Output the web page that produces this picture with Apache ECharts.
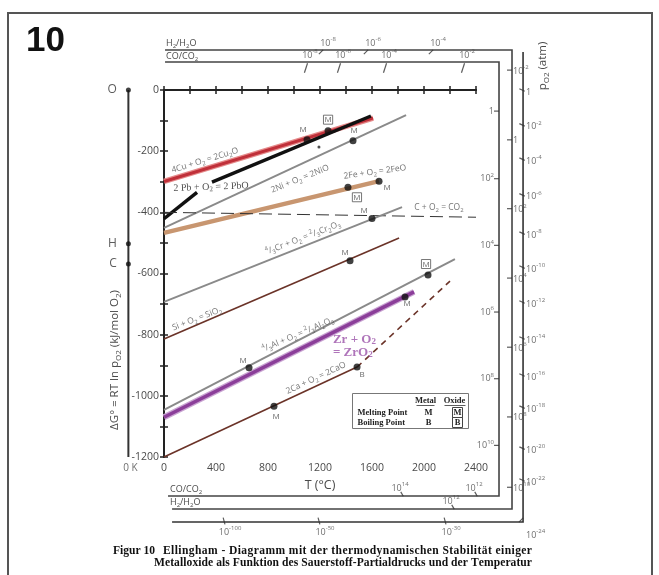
<!DOCTYPE html>
<html><head><meta charset="utf-8">
<script src="https://cdn.jsdelivr.net/npm/echarts@6/dist/echarts.min.js"></script>
<style>html,body{margin:0;padding:0;background:#fff}#c{width:659px;height:575px}</style>
</head><body><div id="c"></div>
<script>
// ---------------- DATA ----------------
const tempTicks = [0, 400, 800, 1200, 1600, 2000, 2400];
const gTicks = [-1200, -1000, -800, -600, -400, -200, 0];

// reaction lines [T (°C), ΔG (kJ/mol O2)]
const cuLine = [[0, -299], [1608, -92]];
const pbLineA = [[0, -421], [254, -335]];
const pbLineB = [[369, -301], [1592, -85]];
const niLine = [[0, -451], [1862, -82]];
const feLine = [[0, -467], [1654, -298]];
const carbonLine = [[0, -400], [2400, -416]];
const crLine = [[0, -693], [1831, -383]];
const siLine = [[0, -814], [1808, -484]];
const alLine = [[0, -1046], [2238, -553]];
const zrLine = [[0, -1070], [1923, -660]];
const caLine = [[0, -1200], [1485, -906]];
const caDashed = [[1485, -906], [2200, -625]];

// melting / boiling points
const meltPoints = [[1100, -163], [1262, -133], [1454, -166], [1415, -318], [1654, -298], [1600, -420],
                    [1431, -558], [654, -908], [2031, -605], [1854, -677], [846, -1034]];
const meltKinds = ['M', 'Mbox', 'M', 'Mbox', 'M', 'M', 'M', 'M', 'Mbox', 'M', 'M'];
const boilPoints = [[1485, -906]];
const strayPoint = [[1192, -186]];

// reaction labels [T, ΔG]
const reactionPos = [[315, -230], [362, -317], [1046, -291], [1623, -268], [2115, -384], [1069, -484],
                     [254, -748], [1030, -800], [1169, -942]];
const reactionText = ['4Cu + O{sub|2} = 2Cu{sub|2}O', '2 Pb + O{sub|2} = 2 PbO', '2Ni + O{sub|2} = 2NiO',
  '2Fe + O{sub|2} = 2FeO', 'C + O{sub|2} = CO{sub|2}', '{sup|4}/{sub|3}Cr + O{sub|2} = {sup|2}/{sub|3}Cr{sub|2}O{sub|3}',
  'Si + O{sub|2} = SiO{sub|2}', '{sup|4}/{sub|3}Al + O{sub|2} = {sup|2}/{sub|3}Al{sub|2}O{sub|3}', '2Ca + O{sub|2} = 2CaO'];
const zrPos = [[1438, -837]];

// 0 K scale (element points)
const zeroK = -274;
const elementNames = ['O', 'H', 'C'];
const elementG = [0, -503, -569];

// nomographic scales
const coTopG = 91.6, h2TopG = 130.8, coBotG = -1327.6, h2BotG = -1370, pBotG = -1412.6;
const coRightT = 2577, h2RightT = 2677, pRightT = 2762;
const coTopT = [1092, 1346, 1700, 2300];
const coTopLabels = ['10{sup|-8}', '10{sup|-6}', '10{sup|-4}', '10{sup|-2}'];
const h2TopT = [1200, 1546, 2046];
const h2TopLabels = ['10{sup|-8}', '10{sup|-6}', '10{sup|-4}'];
const coRightG = [-69, -290, -508, -726, -944, -1162];
const coRightLabels = ['1', '10{sup|2}', '10{sup|4}', '10{sup|6}', '10{sup|8}', '10{sup|10}'];
const h2RightG = [65, -163, -388, -615, -841, -1069, -1299];
const h2RightLabels = ['10{sup|-2}', '1', '10{sup|2}', '10{sup|4}', '10{sup|6}', '10{sup|8}', '10{sup|10}'];
const pRightG = [0, -114, -226, -343, -468, -579, -693, -811, -932, -1037, -1171, -1275];
const pRightLabels = ['1', '10{sup|-2}', '10{sup|-4}', '10{sup|-6}', '10{sup|-8}', '10{sup|-10}', '10{sup|-12}',
  '10{sup|-14}', '10{sup|-16}', '10{sup|-18}', '10{sup|-20}', '10{sup|-22}'];
const pCornerLabel = '10{sup|-24}';
const coBotT = [1831, 2400];
const coBotLabels = ['10{sup|14}', '10{sup|12}'];
const h2BotT = [2223];
const h2BotLabels = ['10{sup|12}'];
const pBotT = [462, 1192, 2162];
const pBotLabels = ['10{sup|-100}', '10{sup|-50}', '10{sup|-30}'];

// frames of the scales
const coFrame = [[8, coTopG], [coRightT, coTopG], [coRightT, coBotG], [31, coBotG]];
const h2Frame = [[8, h2TopG], [h2RightT, h2TopG], [h2RightT, h2BotG], [62, h2BotG]];
const pFrame = [[pRightT, 124], [pRightT, pBotG], [62, pBotG]];
const zeroKLine = [[zeroK, 0], [zeroK, -1200]];

// ---------------- CHART ----------------
const SANS = '"Open Sans", "DejaVu Sans", sans-serif';
const SERIF = '"Liberation Serif", "DejaVu Serif", serif';
const TXT = '#4a4a4a';
function richFor(fs, color, family) {
  return {
    sup: {fontSize: Math.round(fs * 0.72), verticalAlign: 'top', color: color, fontFamily: family || SANS},
    sub: {fontSize: Math.round(fs * 0.72), verticalAlign: 'bottom', color: color, fontFamily: family || SANS},
    box: {fontSize: fs, color: color, fontFamily: family || SANS, borderColor: '#555', borderWidth: 1, padding: [1, 1, 0, 1]}
  };
}
function line(data, color, width, extra) {
  return {type: 'line', data: data, symbol: 'none', clip: false, silent: true,
    lineStyle: Object.assign({color: color, width: width}, extra || {}), z: 3};
}
function polyline(data, color, width) {
  return {type: 'custom', data: data, clip: false, silent: true, z: 3,
    renderItem: (params, api) => params.dataIndex === 0 ? {type: 'polyline',
      shape: {points: data.map(d => api.coord(d))}, style: {stroke: color, lineWidth: width, fill: null}} : null};
}
function ticks(points, size, rot, offset) {
  return {type: 'scatter', data: points, symbol: 'rect', symbolSize: size, symbolRotate: rot || 0,
    symbolOffset: offset || [0, 0], itemStyle: {color: '#333'}, clip: false, silent: true, z: 4};
}
function labels(points, names, offset, align, fs) {
  fs = fs || 9;
  return {type: 'scatter', data: points.map((p, i) => ({value: p, name: names[i]})), symbolSize: 0,
    clip: false, silent: true, z: 5,
    label: {show: true, position: 'inside', offset: offset, align: align || 'center', verticalAlign: 'middle',
      formatter: p => p.name, fontSize: fs, lineHeight: Math.round(fs * 1.45), color: TXT, fontFamily: SANS,
      rich: richFor(fs, TXT)}};
}
const series = [];
// frames
series.push(polyline(coFrame, '#444', 1.6));
series.push(polyline(h2Frame, '#444', 1.6));
series.push(polyline(pFrame, '#333', 1.6));
series.push(polyline(zeroKLine, '#333', 2));
// scale ticks and labels
series.push(ticks(coTopT.map(t => [t, coTopG]), [1.2, 10], -18, [0, 6]));
series.push(labels(coTopT.map(t => [t, coTopG]), coTopLabels, [4, -7], 'center', 9));
series.push(ticks(h2TopT.map(t => [t, h2TopG]), [1.2, 6], -45, [1, 2]));
series.push(labels(h2TopT.map(t => [t, h2TopG]), h2TopLabels, [8, -7], 'center', 9));
series.push(ticks(coRightG.map(g => [coRightT, g]), [5, 1.2], 0, [-2.5, 0]));
series.push(labels(coRightG.map(g => [coRightT, g]), coRightLabels, [-5, 0], 'right', 9));
series.push(ticks(h2RightG.map(g => [h2RightT, g]), [5, 1.2], 0, [-2.5, 0]));
series.push(labels(h2RightG.map(g => [h2RightT, g]), h2RightLabels, [1, 1], 'left', 9));
series.push(ticks(pRightG.map(g => [pRightT, g]), [6, 1.2], -25, [-1, 0]));
series.push(labels(pRightG.map(g => [pRightT, g]), pRightLabels, [3, 2], 'left', 9));
series.push(labels([[pRightT, pBotG]], [pCornerLabel], [3, 13], 'left', 9));
series.push(ticks([[pRightT, pBotG]], [6, 1.2], 45, [-2, -2]));
series.push(ticks(coBotT.map(t => [t, coBotG]), [1.2, 5], 30, [0, -2]));
series.push(labels(coBotT.map(t => [t, coBotG]), coBotLabels, [-2, -8], 'center', 9));
series.push(ticks(h2BotT.map(t => [t, h2BotG]), [1.2, 5], 30, [0, -2]));
series.push(labels(h2BotT.map(t => [t, h2BotG]), h2BotLabels, [-2, -8], 'center', 9));
series.push(ticks(pBotT.map(t => [t, pBotG]), [1.2, 7], 15, [0, -1]));
series.push(labels(pBotT.map(t => [t, pBotG]), pBotLabels, [6, 10], 'center', 9));
// element points on 0 K line
series.push({type: 'scatter', data: elementG.map((g, i) => ({value: [zeroK, g], name: elementNames[i]})),
  symbol: 'circle', symbolSize: 5, itemStyle: {color: '#111'}, clip: false, silent: true, z: 5,
  label: {show: true, position: 'left', distance: 9, formatter: p => p.name, fontSize: 12, color: '#333', fontFamily: SANS}});
series.push(labels([[zeroK, -1200]], ['0 K'], [2, 11], 'center', 10));

// reaction lines
series.push(line(cuLine, '#e58a8a', 5.5));
series.push(line(cuLine, '#c0303a', 3));
series.push(line(pbLineA, '#111', 3.5));
series.push(line(pbLineB, '#111', 3.5));
series.push(line(niLine, '#8a8a8a', 2));
series.push(line(feLine, '#c89670', 4.5));
series.push(line(carbonLine, '#333', 1, {type: [13, 6]}));
series.push(line(crLine, '#8a8a8a', 2));
series.push(line(siLine, '#6b3328', 1.6));
series.push(line(zrLine, '#c9a3d2', 6));
series.push(line(zrLine, '#8b3e99', 3.5));
series.push(line(alLine, '#8a8a8a', 2));
series.push(line(caLine, '#6b3328', 1.6));
series.push(line(caDashed, '#6b3328', 1.6, {type: [6, 5]}));

// reaction labels
const reactionRot = [17, 2, 22, 8, 0, 21, 21, 23, 25];
const RCOL = '#505050';
series.push({type: 'scatter', symbolSize: 0, clip: false, silent: true, z: 6,
  data: reactionPos.map((p, i) => ({value: p, name: reactionText[i],
    label: {rotate: reactionRot[i],
      fontFamily: i === 1 ? SERIF : SANS, fontSize: i === 1 ? 10 : 8.5,
      color: i === 1 ? '#222' : RCOL, rich: richFor(i === 1 ? 10 : 8.5, i === 1 ? '#222' : RCOL, i === 1 ? SERIF : SANS)}})),
  label: {show: true, position: 'inside', formatter: p => p.name, lineHeight: 12}});
series.push({type: 'scatter', symbolSize: 0, clip: false, silent: true, z: 6,
  data: zrPos.map(p => ({value: p, name: 'Zr + O{sub|2}\n= ZrO{sub|2}'})),
  label: {show: true, position: 'inside', formatter: p => p.name, align: 'left', offset: [-18, 0],
    fontFamily: SERIF, fontWeight: 'bold', fontSize: 13, lineHeight: 13, color: '#9b52a9',
    rich: {sub: {fontFamily: SERIF, fontWeight: 'bold', fontSize: 9, verticalAlign: 'bottom', color: '#9b52a9'}}}});

// melting / boiling points
const meltOffsets = [[-4, -10], [0, -11], [1, -10], [9, 10], [8, 7], [-8, -8], [-5, -8], [-6, -7], [-2, -11], [2, 7], [2, 10]];
series.push({type: 'scatter', symbol: 'circle', symbolSize: 7, itemStyle: {color: '#111'}, clip: false, silent: true, z: 7,
  data: meltPoints.map((p, i) => ({value: p, name: meltKinds[i] === 'Mbox' ? '{box|M}' : 'M',
    label: {offset: meltOffsets[i]}})),
  label: {show: true, position: 'inside', formatter: p => p.name, fontSize: 8, color: '#444', fontFamily: SANS, rich: richFor(8, '#444')}});
series.push({type: 'scatter', symbol: 'circle', symbolSize: 7, itemStyle: {color: '#111'}, clip: false, silent: true, z: 7,
  data: boilPoints.map(p => ({value: p, name: 'B'})),
  label: {show: true, position: 'inside', offset: [5, 8], formatter: p => p.name, fontSize: 8, color: '#444', fontFamily: SANS}});
series.push({type: 'scatter', symbol: 'circle', symbolSize: 3, itemStyle: {color: '#222'}, clip: false, silent: true, z: 7, data: strayPoint});

const axisCol = '#222';
const grid = {left: 164, right: 183, top: 90, bottom: 118};
const plain = v => String(v);
const option = {
  animation: false,
  backgroundColor: '#fff',
  grid: [Object.assign({}, grid), Object.assign({}, grid)],
  xAxis: [
    {type: 'value', gridIndex: 0, min: 0, max: 2400, interval: 400, position: 'bottom',
      axisLine: {lineStyle: {color: axisCol, width: 2}},
      axisTick: {length: 4, lineStyle: {color: axisCol, width: 1.5}},
      minorTick: {show: true, splitNumber: 2, length: 4, lineStyle: {color: axisCol, width: 1.5}},
      axisLabel: {fontSize: 10.5, color: TXT, margin: 6, fontFamily: SANS, formatter: plain},
      splitLine: {show: false},
      name: 'T (°C)', nameLocation: 'middle', nameGap: 20, nameTextStyle: {fontSize: 12.5, color: TXT, fontFamily: SANS}},
    {type: 'value', gridIndex: 0, min: 0, max: 2400, position: 'top',
      axisLine: {lineStyle: {color: axisCol, width: 2}}, axisTick: {show: false}, axisLabel: {show: false}, splitLine: {show: false}},
    {type: 'value', gridIndex: 1, min: 0, max: 2400, interval: 400, position: 'bottom',
      axisLine: {show: false}, axisTick: {inside: true, length: 4, lineStyle: {color: axisCol, width: 1.5}},
      minorTick: {show: true, splitNumber: 2, length: 4, lineStyle: {color: axisCol, width: 1.5}},
      axisLabel: {show: false}, splitLine: {show: false}}
  ],
  yAxis: [
    {type: 'value', gridIndex: 0, min: -1200, max: 0, interval: 200, position: 'left',
      axisLine: {lineStyle: {color: axisCol, width: 2}},
      axisTick: {length: 4, lineStyle: {color: axisCol, width: 1.5}},
      minorTick: {show: true, splitNumber: 2, length: 4, lineStyle: {color: axisCol, width: 1.5}},
      axisLabel: {fontSize: 10.5, color: TXT, margin: 5, fontFamily: SANS, formatter: plain}, splitLine: {show: false}},
    {type: 'value', gridIndex: 0, min: -1200, max: 0, position: 'right',
      axisLine: {lineStyle: {color: axisCol, width: 2}}, axisTick: {show: false}, axisLabel: {show: false}, splitLine: {show: false}},
    {type: 'value', gridIndex: 1, min: -1200, max: 0, interval: 200, position: 'left',
      axisLine: {show: false}, axisTick: {inside: true, length: 4, lineStyle: {color: axisCol, width: 1.5}},
      minorTick: {show: true, splitNumber: 2, length: 4, lineStyle: {color: axisCol, width: 1.5}},
      axisLabel: {show: false}, splitLine: {show: false}}
  ],
  series: series,
  graphic: []
};

// caption: letter-spaced, justified, horizontally condensed
const ctx = document.createElement('canvas').getContext('2d');
const capPrefix = 'Figur 10';
const cap1 = 'Ellingham - Diagramm mit der thermodynamischen Stabilität einiger';
const cap2 = 'Metalloxide als Funktion des Sauerstoff-Partialdrucks und der Temperatur';
const capFont = 'bold 12px "Liberation Serif", serif';
ctx.font = capFont;
const capScale = Math.min(1, 372 / ctx.measureText(cap2).width);
function spacedLine(text, x0, x1, y) {
  ctx.font = capFont;
  const chars = Array.from(text);
  const widths = chars.map(c => ctx.measureText(c).width * capScale);
  const total = widths.reduce((a, b) => a + b, 0);
  const ls = (x1 - x0 - total) / (chars.length - 1);
  const out = [];
  let x = x0;
  chars.forEach((c, i) => {
    if (c !== ' ') out.push({type: 'text', x: x, y: y, scaleX: capScale, silent: true,
      style: {text: c, font: capFont, fill: '#111', verticalAlign: 'middle'}});
    x += widths[i] + ls;
  });
  return out;
}

const subRich = (fs, col) => ({sub: {fontSize: Math.round(fs * 0.72), verticalAlign: 'bottom', fill: col, fontFamily: SANS}});
option.graphic = [
  {type: 'rect', shape: {x: 8, y: 13, width: 644, height: 580}, style: {fill: 'none', stroke: '#555', lineWidth: 2}, silent: true},
  {type: 'text', left: 26, top: 24, style: {text: '10', font: 'bold 35px "Liberation Sans", Arial, sans-serif', fill: '#111'}},
  {type: 'text', x: 115, y: 360, rotation: Math.PI / 2,
    style: {text: 'ΔG° = RT ln p{sub|O2} (kJ/mol O{sub|2})', fontSize: 11.5, fontFamily: SANS, fill: TXT,
      align: 'center', verticalAlign: 'middle', lineHeight: 16, rich: subRich(11.5, TXT)}},
  {type: 'text', x: 543, y: 66, rotation: Math.PI / 2,
    style: {text: 'p{sub|O2} (atm)', fontSize: 11.5, fontFamily: SANS, fill: TXT,
      align: 'center', verticalAlign: 'middle', lineHeight: 16, rich: subRich(11.5, TXT)}},
  {type: 'text', x: 166, y: 43, style: {text: 'H{sub|2}/H{sub|2}O', fontSize: 9, fontFamily: SANS, fill: TXT, verticalAlign: 'middle', lineHeight: 13, rich: subRich(9, TXT)}},
  {type: 'text', x: 166, y: 56, style: {text: 'CO/CO{sub|2}', fontSize: 9, fontFamily: SANS, fill: TXT, verticalAlign: 'middle', lineHeight: 13, rich: subRich(9, TXT)}},
  {type: 'text', x: 170, y: 489, style: {text: 'CO/CO{sub|2}', fontSize: 9, fontFamily: SANS, fill: TXT, verticalAlign: 'middle', lineHeight: 13, rich: subRich(9, TXT)}},
  {type: 'text', x: 170, y: 502, style: {text: 'H{sub|2}/H{sub|2}O', fontSize: 9, fontFamily: SANS, fill: TXT, verticalAlign: 'middle', lineHeight: 13, rich: subRich(9, TXT)}},
  // legend box
  {type: 'group', left: 352, top: 393, children: [
    {type: 'rect', shape: {x: 0, y: 0, width: 116, height: 35}, style: {fill: '#fff', stroke: '#777', lineWidth: 1}},
    {type: 'text', x: 73, y: 7, style: {text: 'Metal', font: 'bold 8.5px "Liberation Serif", serif', fill: '#222', align: 'center', verticalAlign: 'middle'}},
    {type: 'line', shape: {x1: 64, y1: 12, x2: 82, y2: 12}, style: {stroke: '#333', lineWidth: 0.8}},
    {type: 'text', x: 102, y: 7, style: {text: 'Oxide', font: 'bold 8.5px "Liberation Serif", serif', fill: '#222', align: 'center', verticalAlign: 'middle'}},
    {type: 'line', shape: {x1: 92, y1: 12, x2: 113, y2: 12}, style: {stroke: '#333', lineWidth: 0.8}},
    {type: 'text', x: 5, y: 19, style: {text: 'Melting Point', font: 'bold 8.5px "Liberation Serif", serif', fill: '#222', verticalAlign: 'middle'}},
    {type: 'text', x: 76, y: 19, style: {text: 'M', font: 'bold 8.5px "Liberation Serif", serif', fill: '#222', align: 'center', verticalAlign: 'middle'}},
    {type: 'rect', shape: {x: 100, y: 14, width: 10, height: 10}, style: {fill: 'none', stroke: '#444', lineWidth: 1}},
    {type: 'text', x: 105, y: 19, style: {text: 'M', font: 'bold 8.5px "Liberation Serif", serif', fill: '#222', align: 'center', verticalAlign: 'middle'}},
    {type: 'text', x: 5, y: 29, style: {text: 'Boiling Point', font: 'bold 8.5px "Liberation Serif", serif', fill: '#222', verticalAlign: 'middle'}},
    {type: 'text', x: 76, y: 29, style: {text: 'B', font: 'bold 8.5px "Liberation Serif", serif', fill: '#222', align: 'center', verticalAlign: 'middle'}},
    {type: 'rect', shape: {x: 100, y: 24, width: 10, height: 10}, style: {fill: 'none', stroke: '#444', lineWidth: 1}},
    {type: 'text', x: 105, y: 29, style: {text: 'B', font: 'bold 8.5px "Liberation Serif", serif', fill: '#222', align: 'center', verticalAlign: 'middle'}}
  ]}
].concat(spacedLine(capPrefix, 113, 155, 551))
 .concat(spacedLine(cap1, 163, 532, 551))
 .concat(spacedLine(cap2, 154, 532, 563));

const chart = echarts.init(document.getElementById('c'));
chart.setOption(option);
</script>
</body></html>
